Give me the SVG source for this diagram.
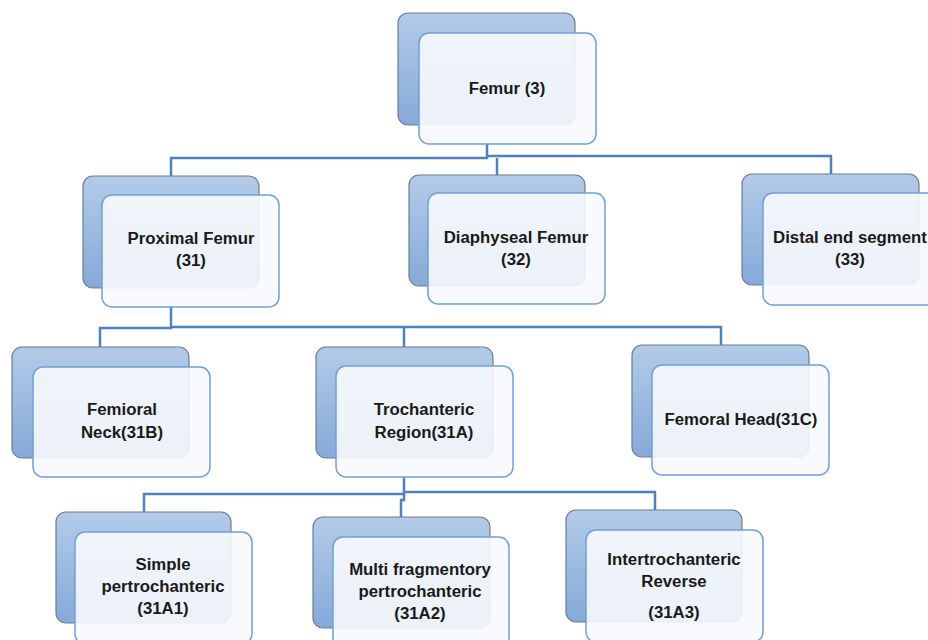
<svg xmlns="http://www.w3.org/2000/svg" width="928" height="640" viewBox="0 0 928 640">
<defs>
<linearGradient id="bg" x1="0" y1="0" x2="0" y2="1">
<stop offset="0" stop-color="#b3cbe8"/>
<stop offset="1" stop-color="#86a9d8"/>
</linearGradient>
<style>
.back{fill:url(#bg);stroke:#6f7c8c;stroke-width:1.2}
.front{fill:#f7f9fd;fill-opacity:0.9;stroke:#6fa0d8;stroke-width:1.5}
.t{font-family:"Liberation Sans",Arial,sans-serif;font-weight:bold;font-size:16.8px;fill:#1a1a1a;text-anchor:middle}
.c{fill:none;stroke:#4f81bd;stroke-width:2.5}
</style>
</defs>
<rect width="928" height="640" fill="#ffffff"/>
<g id="connectors">
<polyline class="c" points="487,144 487,158 171,158 171,176"/>
<polyline class="c" points="487,156 831,156 831,175"/>
<polyline class="c" points="497,158 497,175"/>
<polyline class="c" points="171,307 171,328 100,328 100,347"/>
<polyline class="c" points="171,327 721,327 721,345"/>
<polyline class="c" points="404,328 404,347"/>
<polyline class="c" points="404,477 404,494 144,494 144,512"/>
<polyline class="c" points="404,492 655,492 655,511"/>
<polyline class="c" points="404,494 404,500 401,500 401,517"/>
</g>
<g id="femur">
<rect class="back" x="398" y="13" width="177" height="112" rx="10"/>
<rect class="front" x="419" y="33" width="177" height="111" rx="10"/>
<text class="t" x="507" y="94">Femur (3)</text>
</g>
<g id="proximal">
<rect class="back" x="83" y="176" width="176" height="112" rx="10"/>
<rect class="front" x="102" y="195" width="177" height="112" rx="10"/>
<text class="t" x="191" y="244">Proximal Femur</text>
<text class="t" x="191" y="266">(31)</text>
</g>
<g id="diaphyseal">
<rect class="back" x="409" y="175" width="176" height="111" rx="10"/>
<rect class="front" x="428" y="193" width="177" height="111" rx="10"/>
<text class="t" x="516" y="243">Diaphyseal Femur</text>
<text class="t" x="516" y="265">(32)</text>
</g>
<g id="distal">
<rect class="back" x="742" y="174" width="177" height="111" rx="10"/>
<rect class="front" x="763" y="193" width="177" height="112" rx="10"/>
<text class="t" x="850" y="243">Distal end segment</text>
<text class="t" x="850" y="265">(33)</text>
</g>
<g id="neck">
<rect class="back" x="12" y="347" width="177" height="111" rx="10"/>
<rect class="front" x="33" y="367" width="177" height="110" rx="10"/>
<text class="t" x="122" y="415">Femioral</text>
<text class="t" x="122" y="438">Neck(31B)</text>
</g>
<g id="trochanteric">
<rect class="back" x="316" y="347" width="177" height="111" rx="10"/>
<rect class="front" x="336" y="366" width="177" height="111" rx="10"/>
<text class="t" x="424" y="415">Trochanteric</text>
<text class="t" x="424" y="438">Region(31A)</text>
</g>
<g id="head">
<rect class="back" x="632" y="345" width="177" height="112" rx="10"/>
<rect class="front" x="652" y="365" width="177" height="110" rx="10"/>
<text class="t" x="741" y="425">Femoral Head(31C)</text>
</g>
<g id="simple">
<rect class="back" x="56" y="512" width="175" height="111" rx="10"/>
<rect class="front" x="75" y="532" width="177" height="112" rx="10"/>
<text class="t" x="163" y="570">Simple</text>
<text class="t" x="163" y="592">pertrochanteric</text>
<text class="t" x="163" y="614">(31A1)</text>
</g>
<g id="multi">
<rect class="back" x="313" y="517" width="177" height="111" rx="10"/>
<rect class="front" x="333" y="537" width="176" height="112" rx="10"/>
<text class="t" x="420" y="575">Multi fragmentory</text>
<text class="t" x="420" y="597">pertrochanteric</text>
<text class="t" x="420" y="619">(31A2)</text>
</g>
<g id="intertrochanteric">
<rect class="back" x="566" y="510" width="176" height="112" rx="10"/>
<rect class="front" x="586" y="530" width="177" height="112" rx="10"/>
<text class="t" x="674" y="565">Intertrochanteric</text>
<text class="t" x="674" y="587">Reverse</text>
<text class="t" x="674" y="618">(31A3)</text>
</g>
</svg>
